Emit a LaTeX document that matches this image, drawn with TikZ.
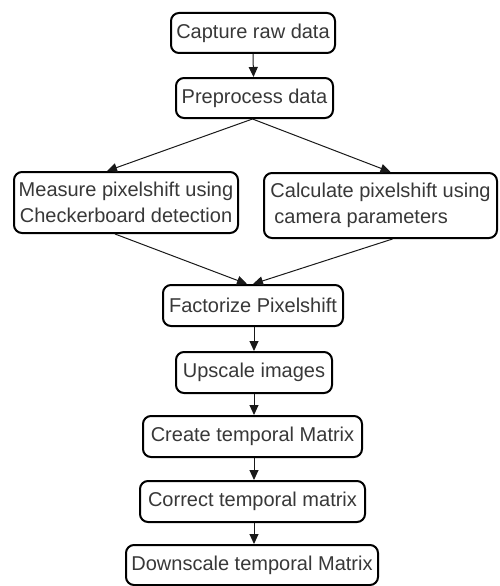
\documentclass[tikz,border=0pt]{standalone}
\usepackage{fontspec}
\setmainfont{Liberation Sans}
\usetikzlibrary{arrows.meta}
\begin{document}
\begin{tikzpicture}[x=1pt,y=-1pt,
  stepbox/.style={draw=black,line width=2pt,rounded corners=8pt,fill=white,
    inner sep=0pt,text=black!78,font=\fontsize{20}{26}\selectfont,align=center},
  conn/.style={draw=black!90,line width=1pt,-{Triangle[length=10pt,width=9pt]}}]
\useasboundingbox (0,0) rectangle (499,586);
\node[stepbox,minimum width=164,minimum height=40] (b1) at (253,33) {Capture raw data};
\node[stepbox,minimum width=157,minimum height=40] (b2) at (254.5,98) {Preprocess data};
\node[stepbox,minimum width=224,minimum height=61] (b3) at (126,202.5) {Measure pixelshift using\\Checkerboard detection};
\node[stepbox,minimum width=233,minimum height=65,align=left] (b4) at (380.5,205.5) {Calculate pixelshift using\\\hspace*{4pt}camera parameters};
\node[stepbox,minimum width=180,minimum height=41] (b5) at (253,305.5) {Factorize Pixelshift};
\node[stepbox,minimum width=156,minimum height=41] (b6) at (254,372.5) {Upscale images};
\node[stepbox,minimum width=219,minimum height=41] (b7) at (252.5,436.5) {Create temporal Matrix};
\node[stepbox,minimum width=225,minimum height=41] (b8) at (252.5,501.5) {Correct temporal matrix};
\node[stepbox,minimum width=252,minimum height=40] (b9) at (252,565) {Downscale temporal Matrix};
\draw[conn] ([xshift=0pt]b1.south) -- ([xshift=-1pt]b2.north);
\draw[conn] ([xshift=-2pt]b2.south) -- ([xshift=-19pt]b3.north);
\draw[conn] ([xshift=-2pt]b2.south) -- ([xshift=10pt]b4.north);
\draw[conn] ([xshift=-11pt]b3.south) -- ([xshift=-6pt]b5.north);
\draw[conn] ([xshift=12pt]b4.south) -- ([xshift=0pt]b5.north);
\draw[conn] ([xshift=1pt]b5.south) -- (b6.north);
\draw[conn] (b6.south) -- ([xshift=1.5pt]b7.north);
\draw[conn] ([xshift=1.5pt]b7.south) -- ([xshift=1.5pt]b8.north);
\draw[conn] ([xshift=1.5pt]b8.south) -- ([xshift=2pt]b9.north);
\end{tikzpicture}
\end{document}
